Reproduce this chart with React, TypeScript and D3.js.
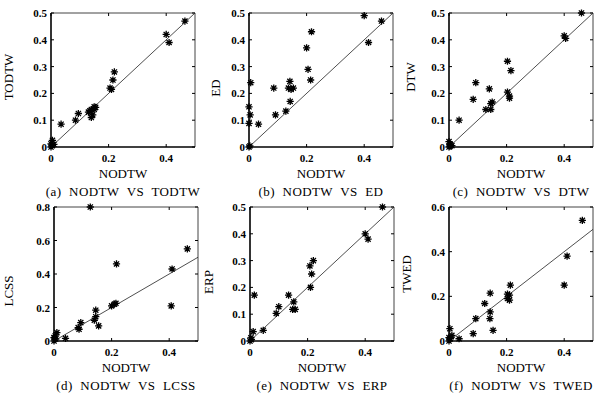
import React from "react";
import * as d3 from "d3";

// x axis is NODTW error rate in every panel
const xTicks = [0, 0.2, 0.4];
const yNames = ["TODTW", "ED", "DTW", "LCSS", "ERP", "TWED"];
const captions = [
  "(a) NODTW VS TODTW",
  "(b) NODTW VS ED",
  "(c) NODTW VS DTW",
  "(d) NODTW VS LCSS",
  "(e) NODTW VS ERP",
  "(f) NODTW VS TWED",
];
const yMaxes = [0.5, 0.5, 0.5, 0.8, 0.5, 0.6];
const yTickSets = [
  [0, 0.1, 0.2, 0.3, 0.4, 0.5],
  [0, 0.1, 0.2, 0.3, 0.4, 0.5],
  [0, 0.1, 0.2, 0.3, 0.4, 0.5],
  [0, 0.2, 0.4, 0.6, 0.8],
  [0, 0.1, 0.2, 0.3, 0.4, 0.5],
  [0, 0.2, 0.4, 0.6],
];

// [NODTW, other] pairs
const todtwPts: [number, number][] = [
  [0.465, 0.47], [0.4, 0.42], [0.41, 0.39], [0.22, 0.28], [0.215, 0.25],
  [0.205, 0.22], [0.21, 0.215], [0.13, 0.13], [0.14, 0.14], [0.15, 0.15],
  [0.155, 0.148], [0.145, 0.12], [0.14, 0.11], [0.135, 0.135], [0.15, 0.14],
  [0.095, 0.125], [0.085, 0.1], [0.035, 0.085], [0.005, 0.025], [0, 0],
  [0.005, 0.005], [0.01, 0.01], [0, 0.012],
];
const edPts: [number, number][] = [
  [0.4, 0.49], [0.46, 0.47], [0.415, 0.39], [0.217, 0.43], [0.2, 0.37],
  [0.205, 0.29], [0.214, 0.25], [0.142, 0.245], [0.146, 0.215], [0.154, 0.22],
  [0.137, 0.22], [0.086, 0.22], [0.143, 0.17], [0.128, 0.134], [0.092, 0.12],
  [0.033, 0.085], [0.006, 0.24], [0, 0.15], [0.004, 0.12], [0, 0.088],
  [0, 0], [0.003, 0.004],
];
const dtwPts: [number, number][] = [
  [0.46, 0.5], [0.4, 0.415], [0.405, 0.405], [0.203, 0.32], [0.215, 0.285],
  [0.203, 0.205], [0.21, 0.19], [0.21, 0.182], [0.093, 0.24], [0.14, 0.217],
  [0.084, 0.178], [0.15, 0.168], [0.145, 0.162], [0.128, 0.14], [0.145, 0.14],
  [0.035, 0.1], [0, 0], [0.005, 0.01], [0, 0.02], [0.01, 0.005], [0.003, 0.003],
];
const lcssPts: [number, number][] = [
  [0.126, 0.8], [0.463, 0.55], [0.41, 0.43], [0.217, 0.46], [0.407, 0.21],
  [0.21, 0.22], [0.2, 0.21], [0.215, 0.225], [0.145, 0.184], [0.145, 0.145],
  [0.14, 0.124], [0.155, 0.09], [0.093, 0.11], [0.084, 0.08], [0.087, 0.07],
  [0.04, 0.016], [0.01, 0.05], [0, 0], [0.004, 0.03], [0.006, 0.012], [0, 0.02],
];
const erpPts: [number, number][] = [
  [0.46, 0.5], [0.4, 0.4], [0.41, 0.38], [0.22, 0.3], [0.208, 0.28],
  [0.214, 0.25], [0.21, 0.2], [0.134, 0.171], [0.152, 0.146], [0.148, 0.118],
  [0.157, 0.118], [0.1, 0.128], [0.091, 0.103], [0.015, 0.171], [0.011, 0.035],
  [0.046, 0.04], [0, 0], [0.005, 0.005], [0.003, 0.012],
];
const twedPts: [number, number][] = [
  [0.463, 0.54], [0.41, 0.38], [0.4, 0.25], [0.213, 0.25], [0.203, 0.21],
  [0.21, 0.205], [0.203, 0.19], [0.21, 0.183], [0.143, 0.214], [0.124, 0.168],
  [0.143, 0.13], [0.142, 0.1], [0.153, 0.048], [0.093, 0.1], [0.084, 0.033],
  [0.035, 0.01], [0.003, 0.055], [0.01, 0.025], [0, 0], [0.005, 0.01], [0, 0.015],
];
const allPts = [todtwPts, edPts, dtwPts, lcssPts, erpPts, twedPts];

// panel boxes in page pixels
const W = 144;
const H = 134;
const boxes = [
  { left: 51, top: 13, labelDx: 38, labelDy: -3 },
  { left: 249, top: 13, labelDx: 29, labelDy: 8 },
  { left: 449, top: 13, labelDx: 34, labelDy: -3 },
  { left: 54, top: 207, labelDx: 41, labelDy: 17 },
  { left: 250, top: 207, labelDx: 37, labelDy: 8 },
  { left: 449, top: 207, labelDx: 38, labelDy: 0 },
];

const fmt = d3.format("~g");
const font = "'Liberation Serif', 'DejaVu Serif', serif";

const star = (r: number) => {
  const k = r * 0.72;
  return `M${-r},0H${r}M0,${-r}V${r}M${-k},${-k}L${k},${k}M${-k},${k}L${k},${-k}`;
};

function Panel({ i }: { i: number }) {
  const b = boxes[i];
  const x = d3.scaleLinear().domain([0, 0.5]).range([b.left, b.left + W]);
  const y = d3.scaleLinear().domain([0, yMaxes[i]]).range([b.top + H, b.top]);
  const row2 = i >= 3;
  const tickBase = row2 ? 356 : 162;
  const clipId = `clip${i}`;
  const line = d3.line<number>()
    .x((d) => x(d))
    .y((d) => y(d));
  return (
    <g>
      <defs>
        <clipPath id={clipId}>
          <rect x={b.left} y={b.top} width={W} height={H} />
        </clipPath>
      </defs>
      {/* frame */}
      <line x1={b.left} x2={b.left + W} y1={b.top} y2={b.top} stroke="#444" strokeWidth={1} />
      <line x1={b.left + W} x2={b.left + W} y1={b.top} y2={b.top + H} stroke="#444" strokeWidth={1} />
      <line x1={b.left} x2={b.left} y1={b.top} y2={b.top + H} stroke="#000" strokeWidth={1.6} />
      <line x1={b.left} x2={b.left + W} y1={b.top + H} y2={b.top + H} stroke="#000" strokeWidth={1.6} />
      {xTicks.map((t) => (
        <g key={`x${t}`}>
          <line x1={x(t)} x2={x(t)} y1={b.top + H} y2={b.top + H - 3} stroke="#000" />
          <line x1={x(t)} x2={x(t)} y1={b.top} y2={b.top + 3} stroke="#000" />
          <text x={x(t)} y={tickBase} textAnchor="middle" fontSize={11} fontWeight="bold" fontFamily={font}>
            {fmt(t)}
          </text>
        </g>
      ))}
      {yTickSets[i].map((t) => (
        <g key={`y${t}`}>
          <line x1={b.left} x2={b.left + 3} y1={y(t)} y2={y(t)} stroke="#000" />
          <line x1={b.left + W} x2={b.left + W - 3} y1={y(t)} y2={y(t)} stroke="#000" />
          <text x={b.left - 4} y={y(t) + 4} textAnchor="end" fontSize={11} fontWeight="bold" fontFamily={font}>
            {fmt(t)}
          </text>
        </g>
      ))}
      {/* y = x reference */}
      <path d={line([0, 0.5]) || ""} clipPath={`url(#${clipId})`} fill="none" stroke="#222" strokeWidth={0.8} />
      {allPts[i].map(([px, py], j) => (
        <path
          key={j}
          transform={`translate(${x(px)},${y(py)})`}
          d={star(3.6)}
          stroke="#000"
          strokeWidth={1.3}
          fill="none"
        />
      ))}
      <text
        transform={`translate(${b.left - b.labelDx},${b.top + H / 2 + b.labelDy}) rotate(-90)`}
        textAnchor="middle"
        fontSize={13}
        fontFamily={font}
      >
        {yNames[i]}
      </text>
      <text x={b.left + W / 2} y={tickBase + 16} textAnchor="middle" fontSize={13} fontFamily={font}>
        NODTW
      </text>
      <text
        x={b.left + W / 2}
        y={tickBase + 34}
        textAnchor="middle"
        fontSize={13}
        fontFamily={font}
        style={{ wordSpacing: "4px", letterSpacing: "0.4px" }}
      >
        {captions[i]}
      </text>
    </g>
  );
}

export default function App() {
  return (
    <svg
      width={595}
      height={395}
      style={{ position: "absolute", left: 0, top: 0, background: "#fff" }}
    >
      {d3.range(6).map((i) => (
        <Panel key={i} i={i} />
      ))}
    </svg>
  );
}
